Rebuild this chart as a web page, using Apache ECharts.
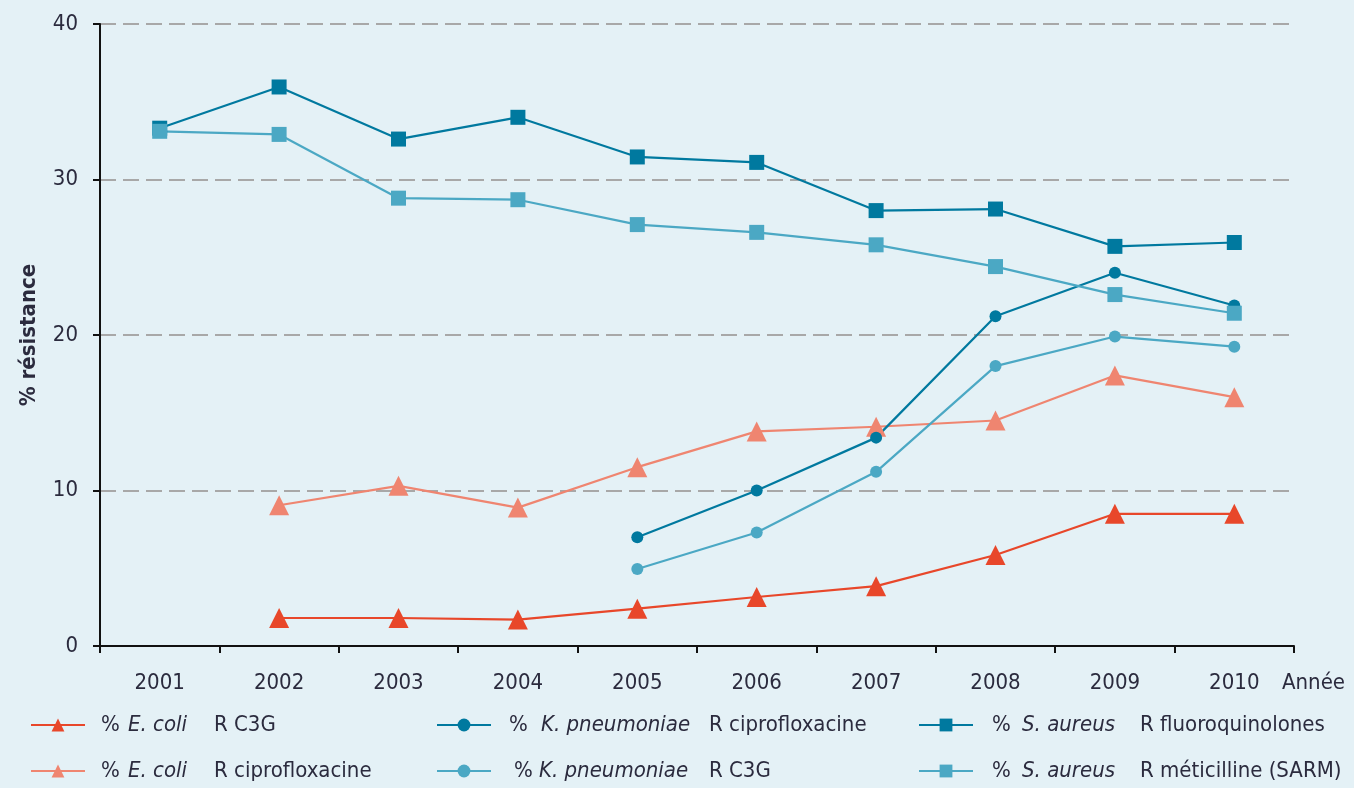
<!DOCTYPE html>
<html>
<head>
<meta charset="utf-8">
<script src="https://cdn.jsdelivr.net/npm/echarts@6/dist/echarts.min.js"></script>
<style>
html,body{margin:0;padding:0;background:#e4f1f6;}
#c{width:1354px;height:788px;}
</style>
</head>
<body>
<div id="c"></div>
<script>
const years = ['2001','2002','2003','2004','2005','2006','2007','2008','2009','2010'];
const yTicks = [0, 10, 20, 30, 40];
const ecoliC3G   = [null, 1.8, 1.8, 1.7, 2.4, 3.15, 3.85, 5.85, 8.5, 8.5];
const ecoliCipro = [null, 9.05, 10.3, 8.9, 11.5, 13.8, 14.1, 14.5, 17.4, 16.0];
const kpnCipro   = [null, null, null, null, 7.0, 10.0, 13.4, 21.2, 24.0, 21.9];
const kpnC3G     = [null, null, null, null, 4.95, 7.3, 11.2, 18.0, 19.9, 19.25];
const saureusFQ  = [33.3, 35.95, 32.6, 34.0, 31.45, 31.1, 28.0, 28.1, 25.7, 25.95];
const saureusMRSA= [33.1, 32.9, 28.8, 28.7, 27.1, 26.6, 25.8, 24.4, 22.6, 21.4];

// legend text parts: prefix, italic species, suffix
const legendLabels = {
  ecoliC3G:   ['%', 'E. coli', 'R C3G'],
  ecoliCipro: ['%', 'E. coli', 'R ciprofloxacine'],
  kpnCipro:   ['%', 'K. pneumoniae', 'R ciprofloxacine'],
  kpnC3G:     ['%', 'K. pneumoniae', 'R C3G'],
  saFQ:       ['%', 'S. aureus', 'R fluoroquinolones'],
  saMRSA:     ['%', 'S. aureus', 'R méticilline (SARM)']
};

const FONT = '"Liberation Sans Narrow", "DejaVu Sans Condensed", "Noto Sans", sans-serif';
const TXT = '#2b2b3e';
const C = { red:'#e8472a', salmon:'#ef8570', dark:'#00799f', light:'#4ba8c4' };

function mkSeries(id, data, color, symbol, size) {
  return {
    id: id, name: id, type: 'line', data: data, connectNulls: false,
    symbol: symbol, symbolSize: size, showAllSymbol: true,
    lineStyle: { color: color, width: 2.2 },
    itemStyle: { color: color },
    emphasis: { disabled: true },
    z: 3
  };
}

// layout of legend text segments (spacer, % width, italic width)
const legendLayout = {
  ecoliC3G:   [11, 27, 86],
  ecoliCipro: [11, 27, 86],
  kpnCipro:   [13, 32, 168],
  kpnC3G:     [18, 25, 170],
  saFQ:       [14, 30, 118],
  saMRSA:     [14, 30, 118]
};

function mkLegend(name, left, top) {
  const L = legendLayout[name];
  const rich = {
    s: { width: L[0] },
    p: { fontFamily: FONT, fontSize: 22, color: TXT, width: L[1] },
    i: { fontFamily: FONT, fontSize: 22, color: TXT, fontStyle: 'italic', width: L[2] },
    n: { fontFamily: FONT, fontSize: 22, color: TXT }
  };
  return {
    data: [name], left: left, top: top, orient: 'horizontal', padding: 0,
    itemWidth: 54, itemHeight: 16,
    formatter: function (nm) {
      const p = legendLabels[nm];
      return '{s|}{p|' + p[0] + '}{i|' + p[1] + '}{n|' + p[2] + '}';
    },
    selectedMode: false,
    textStyle: { rich: rich, fontFamily: FONT, fontSize: 22, color: TXT }
  };
}

const chart = echarts.init(document.getElementById('c'));
chart.setOption({
  backgroundColor: '#e4f1f6',
  animation: false,
  grid: { left: 100, right: 60, top: 24, bottom: 142, outerBoundsMode: 'none', containLabel: false },
  legend: [
    mkLegend('ecoliC3G', 30, 714),
    mkLegend('ecoliCipro', 30, 760),
    mkLegend('kpnCipro', 436, 714),
    mkLegend('kpnC3G', 436, 760),
    mkLegend('saFQ', 918, 714),
    mkLegend('saMRSA', 918, 760)
  ],
  xAxis: {
    type: 'category', data: years, boundaryGap: true,
    name: 'Année', nameLocation: 'end', nameGap: -12,
    nameTextStyle: { fontFamily: FONT, fontSize: 22, color: TXT, verticalAlign: 'top', padding: [26,0,0,0] },
    axisLine: { lineStyle: { color: '#111', width: 2 } },
    axisTick: { show: true, length: 7, lineStyle: { color: '#111', width: 2 } },
    axisLabel: { fontFamily: FONT, fontSize: 22, color: TXT, margin: 26 },
    splitLine: { show: false }
  },
  yAxis: {
    type: 'value', min: 0, max: 40, interval: 10,
    name: '% résistance', nameLocation: 'middle', nameGap: 60, nameRotate: 90,
    nameTextStyle: { fontFamily: FONT, fontSize: 22, color: TXT, fontWeight: 'bold' },
    axisLine: { show: true, lineStyle: { color: '#111', width: 2 } },
    axisTick: { show: true, length: 7, lineStyle: { color: '#111', width: 2 } },
    axisLabel: { fontFamily: FONT, fontSize: 22, color: TXT, margin: 22,
      formatter: v => yTicks.includes(v) ? String(v) : '' },
    splitLine: { show: true, lineStyle: { color: '#a8a8a8', width: 2, type: [16, 7] } }
  },
  series: [
    mkSeries('ecoliC3G', ecoliC3G, C.red, 'triangle', 20),
    mkSeries('ecoliCipro', ecoliCipro, C.salmon, 'triangle', 20),
    mkSeries('kpnCipro', kpnCipro, C.dark, 'circle', 12),
    mkSeries('kpnC3G', kpnC3G, C.light, 'circle', 12),
    mkSeries('saFQ', saureusFQ, C.dark, 'rect', 15),
    mkSeries('saMRSA', saureusMRSA, C.light, 'rect', 15)
  ]
});
</script>
</body>
</html>
